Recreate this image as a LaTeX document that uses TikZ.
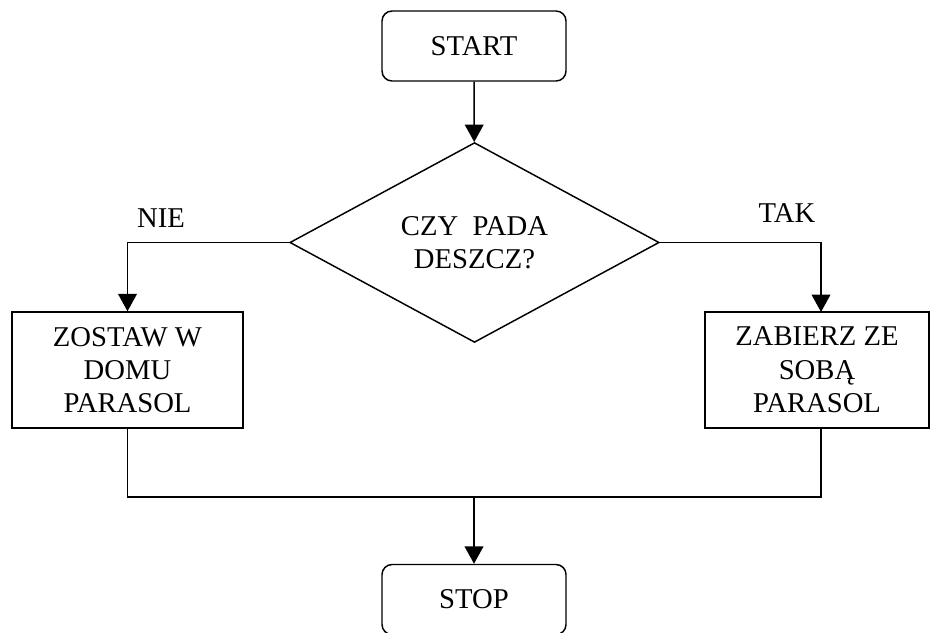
\documentclass[tikz,border=0pt]{standalone}
\usepackage{fontspec}
\setmainfont{Liberation Serif}
\usetikzlibrary{arrows.meta,shapes.geometric}

\tikzset{every picture/.style={line width=1.1pt}}
\tikzset{
  term/.style={draw, rounded corners=7.5pt, minimum width=138pt, minimum height=52.5pt, inner sep=0pt, align=center},
  action/.style={draw, minimum width=173pt, minimum height=87pt, inner sep=0pt, align=center},
  decide/.style={draw, diamond, minimum width=277pt, minimum height=137pt, inner sep=0pt, align=center},
  arr/.style={-{Triangle[width=14pt,length=13pt]}},
  txt/.style={font=\fontsize{21.5}{25}\selectfont}
}

\begin{document}
\begin{tikzpicture}[x=0.75pt,y=0.75pt,yscale=-1,xscale=1,every node/.style={txt}]
    \useasboundingbox (0,0) rectangle (930,632);
    
    % Rounded Rect
    \node [term] (start) at (474,46) {START};
    % Diamond
    \node [decide] (decision) at (474.5,242.5) {CZY~~PADA\\DESZCZ?};
    % Rect
    \node [action] (lbox) at (127.5,370) {ZOSTAW W\\DOMU\\PARASOL};
    % Rect
    \node [action, minimum width=168pt] (rbox) at (817,370) {ZABIERZ ZE\\SOBĄ\\PARASOL};
    % Rounded Rect
    \node [term] (stop) at (474,599.5) {STOP};
    
    \coordinate (tak) at (821,312);
    \coordinate (rbot) at (821,428);
    \coordinate (join) at (474,497);
    
    %Straight Lines
    \draw [arr] (start) -- (decision);
    \draw [arr] (decision.west) -| (lbox.north);
    \draw [arr] (decision.east) -| (tak);
    \draw (lbox.south) |- (join) -| (rbot);
    \draw [arr] (join) -- (stop);
    
    % Text Node
    \node (nie) at (161,218) {NIE};
    % Text Node
    \node (takl) at (787,213) {TAK};
    
\end{tikzpicture}
\end{document}
